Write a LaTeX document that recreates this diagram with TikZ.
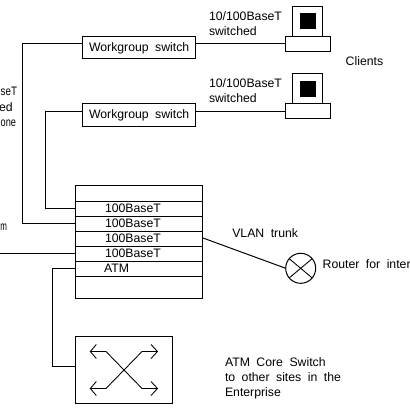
\documentclass[tikz,border=0pt]{standalone}
\usepackage{graphicx}
\usepackage{fontspec}
\setmainfont[WordSpace=1.9]{Liberation Sans}
\usetikzlibrary{calc}
\begin{document}
\begin{tikzpicture}[x=0.75pt,y=-0.75pt,line width=0.75pt,
  boxnode/.style={draw=black,fill=white,rectangle,inner sep=0pt,outer sep=0pt},
  rownode/.style={boxnode,minimum width=95.25pt,minimum height=11.25pt},
  screennode/.style={draw=none,fill=black,rectangle,inner sep=0pt,outer sep=0pt,minimum size=12pt},
  lbl/.style={inner sep=0pt,outer sep=0pt,anchor=base west,font=\fontsize{9.2}{11}\selectfont,text=black},
  lblr/.style={lbl,anchor=base east},
  link/.style={draw=black,line width=0.75pt},
  thinlink/.style={draw=black,line width=0.65pt}]
\useasboundingbox (0,0) rectangle (410,410);
% workgroup switches
\node[boxnode,minimum width=84.75pt,minimum height=16.5pt] (wga) at (139,47.5) {};
\node[boxnode,minimum width=84.75pt,minimum height=17.25pt] (wgb) at (139,115) {};
\node[lbl] (wgat) at (89,51) {Workgroup switch};
\node[lbl] (wgbt) at (89,118) {Workgroup switch};
% stack
\node[boxnode,minimum width=95.25pt,minimum height=12pt] (r0) at (139,193.5) {};
\node[rownode] (r1) at (139,209) {};
\node[rownode] (r2) at (139,224) {};
\node[rownode] (r3) at (139,239) {};
\node[rownode] (r4) at (139,254) {};
\node[rownode] (r5) at (139,269) {};
\node[boxnode,minimum width=95.25pt,minimum height=16.5pt] (r6) at (139,287.5) {};
\node[lbl] (t1) at (105,212.7) {100BaseT};
\node[lbl] (t2) at (105,227.7) {100BaseT};
\node[lbl] (t3) at (105,242.7) {100BaseT};
\node[lbl] (t4) at (105,257.7) {100BaseT};
\node[lbl] (t5) at (104,272.7) {ATM};
% core switch
\node[boxnode,minimum width=72.75pt,minimum height=50.25pt] (core) at (124,370) {};
\coordinate (ula) at (106,351.5); \coordinate (ulb) at (90.3,351.5);
\coordinate (ura) at (142,351.5); \coordinate (urb) at (157.5,351.5);
\coordinate (lla) at (106,388.5); \coordinate (llb) at (90.3,388.5);
\coordinate (lra) at (142,388.5); \coordinate (lrb) at (157.5,388.5);
\draw[thinlink] (ulb) -- (ula) -- (lra) -- (lrb);
\draw[thinlink] (llb) -- (lla) -- (ura) -- (urb);
\draw[thinlink] (96.3,344.5) -- (ulb) -- (96.3,358.5);
\draw[thinlink] (96.3,381.5) -- (llb) -- (96.3,395.5);
\draw[thinlink] (151,344.5) -- (urb) -- (151,358.5);
\draw[thinlink] (151,381.5) -- (lrb) -- (151,395.5);
% clients
\node[boxnode,minimum width=22.5pt,minimum height=22.5pt] (moa) at (307.5,21.5) {};
\node[screennode] (sca) at (308,21) {};
\node[boxnode,minimum width=33.75pt,minimum height=11.25pt] (baa) at (308,44) {};
\node[boxnode,minimum width=22.5pt,minimum height=22.5pt] (mob) at (307.5,88.5) {};
\node[screennode] (scb) at (308,89) {};
\node[boxnode,minimum width=33.75pt,minimum height=11.25pt] (bab) at (308,111) {};
% router
\node[draw=black,fill=white,circle,inner sep=0pt,outer sep=0pt,minimum size=22.5pt] (rt) at (300.7,268.3) {};
\draw[thinlink] (rt.40) -- (rt.220);
\draw[thinlink] (rt.140) -- (rt.320);
% connectors
\coordinate (wgal) at (82.5,43.5);
\coordinate (wgar) at (195.5,43.5);
\coordinate (wgbl) at (82.5,111.5);
\coordinate (wgbr) at (195.5,111.5);
\coordinate (corel) at (75.5,366.5);
\coordinate (free) at (0,253.5);
\coordinate (trunk) at (203,238);
\coordinate (r1p) at ($(r1.west)+(0,-0.5)$);
\coordinate (r2p) at ($(r2.west)+(0,-0.5)$);
\coordinate (r4p) at ($(r4.west)+(0,-0.5)$);
\coordinate (r5p) at ($(r5.west)+(0,-0.5)$);
\draw[link] (wgal) -- (22.5,43.5) |- (r2p);
\draw[link] (wgbl) -- (45.5,111.5) |- (r1p);
\draw[link] (wgar) -- (wgar -| baa.west);
\draw[link] (wgbr) -- (wgbr -| bab.west);
\draw[link] (free) -- (r4p);
\draw[link] (r5p) -- (52.5,268.5) |- (corel);
\draw[link] (trunk) -- (rt.west);
% texts
\node[lbl] (x1) at (209,21) {10/100BaseT};
\node[lbl] (x2) at (209,35.7) {switched};
\node[lbl] (x3) at (209,87.3) {10/100BaseT};
\node[lbl] (x4) at (209,102.3) {switched};
\node[lbl] (cl) at (345.7,65.7) {Clients};
\node[lblr] (y1) at (17,95) {\scalebox{0.8}[1]{seT}};
\node[lblr] (y2) at (12.7,111) {ed};
\node[lblr] (y3) at (16,126) {\scalebox{0.75}[1]{one}};
\node[lblr] (y4) at (7,230.7) {\scalebox{0.65}[1]{m}};
\node[lbl] (vl) at (232.3,237.7) {VLAN trunk};
\node[lbl] (rf) at (322.7,268.3) {Router for inter};
\node[lbl] (c1) at (225,366) {ATM Core Switch};
\node[lbl] (c2) at (225,381) {to other sites in the};
\node[lbl] (c3) at (225,396) {Enterprise};
\end{tikzpicture}
\end{document}
